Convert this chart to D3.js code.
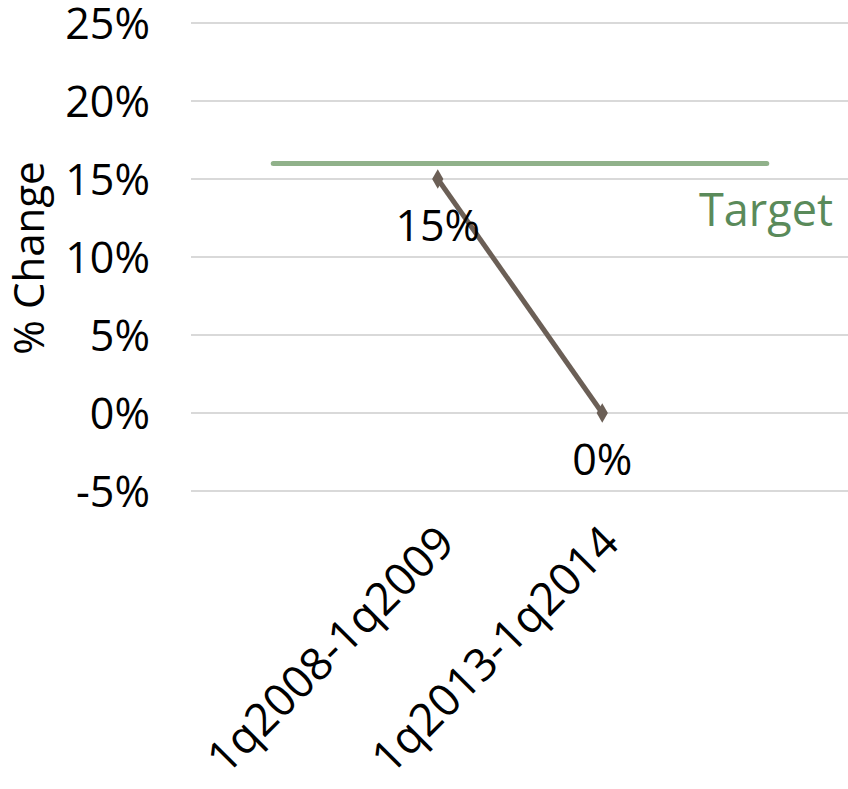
<!DOCTYPE html>
<html><head><meta charset="utf-8">
<script src="https://cdn.jsdelivr.net/npm/d3@7"></script>
<style>body{margin:0;background:#fff}svg{display:block}text{font-family:"Open Sans",sans-serif}</style>
</head><body><svg id="c" width="848" height="789"></svg>
<script>
const categories = ["", "1q2008-1q2009", "1q2013-1q2014", ""];
const changeValues = [null, 0.15, 0.0, null];
const targetValues = [0.16, 0.16, 0.16, 0.16];
const yTicks = [-0.05, 0, 0.05, 0.10, 0.15, 0.20, 0.25];

const svg = d3.select("#c");
const x = d3.scaleBand().domain(d3.range(categories.length)).range([191, 849]);
const y = d3.scaleLinear().domain([-0.05, 0.25]).range([491, 23]);
const cx = i => x(i) + x.bandwidth() / 2;
const fmt = v => d3.format(".0%")(v).replace("\u2212", "-");

// gridlines
svg.append("g").selectAll("line").data(yTicks).join("line")
  .attr("x1", 191).attr("x2", 848)
  .attr("y1", d => y(d)).attr("y2", d => y(d))
  .attr("stroke", "#d9d9d9").attr("stroke-width", 2);

// y axis labels
const yAxis = d3.axisLeft(y).tickValues(yTicks).tickFormat(fmt).tickSize(0).tickPadding(0);
const ga = svg.append("g").attr("transform", "translate(150,0)").call(yAxis);
ga.select(".domain").remove();
ga.selectAll("text").attr("font-size", 43).attr("fill", "#000")
  .attr("font-family", "Open Sans").attr("dy", "0.36em");

// y axis title
svg.append("text").attr("transform", "translate(44,258) rotate(-90)")
  .attr("text-anchor", "middle").attr("font-size", 42)
  .text("% Change");

// x axis labels
const xAxis = d3.axisBottom(x).tickFormat(i => categories[i]).tickSize(0);
const gx = svg.append("g").attr("transform", "translate(0,520)").call(xAxis);
gx.select(".domain").remove();
gx.selectAll("text").attr("font-size", 45).attr("fill", "#000").attr("font-family", "Open Sans")
  .attr("text-anchor", "end").attr("dy", "0.35em")
  .attr("transform", "translate(6,12) rotate(-45)");

// target line
const tline = d3.line().x((d, i) => cx(i)).y(d => y(d));
svg.append("path").datum(targetValues).attr("d", tline)
  .attr("fill", "none").attr("stroke", "#90b18a").attr("stroke-width", 5).attr("stroke-linecap", "round");
svg.append("text").attr("x", 833).attr("y", 226).attr("text-anchor", "end")
  .attr("font-size", 45).attr("fill", "#5a8a5a").text("Target");

// change line
const pts = changeValues.map((v, i) => ({v, i})).filter(d => d.v !== null);
const cline = d3.line().x(d => cx(d.i)).y(d => y(d.v));
svg.append("path").datum(pts).attr("d", cline)
  .attr("fill", "none").attr("stroke", "#6b5f56").attr("stroke-width", 5);
svg.append("g").selectAll("path").data(pts).join("path")
  .attr("d", d3.symbol(d3.symbolDiamond, 110)())
  .attr("transform", d => `translate(${cx(d.i)},${y(d.v)})`)
  .attr("fill", "#6b5f56");
svg.append("g").selectAll("text").data(pts).join("text")
  .attr("x", d => cx(d.i)).attr("y", d => y(d.v) + 62)
  .attr("text-anchor", "middle").attr("font-size", 43)
  .text(d => fmt(d.v));
</script></body></html>
